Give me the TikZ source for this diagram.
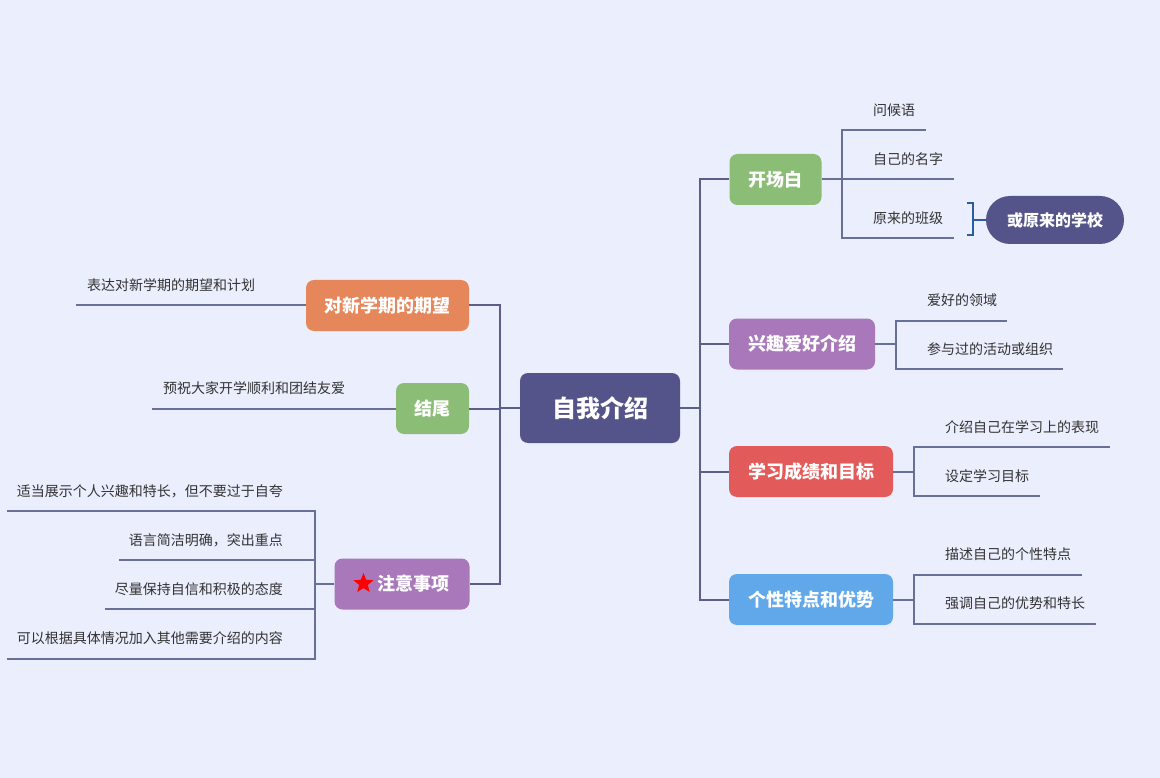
\documentclass[tikz,border=0pt]{standalone}
\usepackage{fontspec}
\setmainfont{Noto Sans CJK SC}
\usetikzlibrary{shapes.geometric}
\definecolor{bgcol}{HTML}{EAEEFD}
\definecolor{cdark}{HTML}{54548A}
\definecolor{trunkcol}{HTML}{5B5E8B}
\definecolor{subcol}{HTML}{687098}
\definecolor{cgreen}{HTML}{8CBD77}
\definecolor{cpurple}{HTML}{A878BA}
\definecolor{cred}{HTML}{E25A59}
\definecolor{cblue}{HTML}{60A8EA}
\definecolor{corange}{HTML}{E5875A}
\definecolor{txtcol}{HTML}{333333}
\definecolor{brcol}{HTML}{2C5BA6}
\tikzset{
  rootbox/.style={fill=cdark, rounded corners=8pt, minimum height=70, minimum width=160, inner sep=0,
    text=white, font=\fontsize{24}{28}\selectfont\bfseries},
  branchbox/.style={rounded corners=8pt, minimum height=51, inner sep=0,
    text=white, font=\fontsize{18}{22}\selectfont\bfseries},
  pillbox/.style={fill=cdark, rounded corners=24pt, minimum height=48, minimum width=138, inner sep=0,
    text=white, font=\fontsize{16}{20}\selectfont\bfseries},
  leaf/.style={inner sep=0, text=txtcol, font=\fontsize{14}{17}\selectfont},
  trunk/.style={draw=trunkcol, line width=2pt},
  subline/.style={draw=subcol, line width=2pt},
}
\begin{document}
\begin{tikzpicture}[x=1pt,y=-1pt]
\fill[bgcol] (0,0) rectangle (1160,778);
\useasboundingbox (0,0) rectangle (1160,778);

% root
\node[rootbox] (root) at (600,408) {自我介绍};

% right branches
\node[branchbox, fill=cgreen, minimum width=92] (kc) at (775.5,179.5) {开场白};
\node[branchbox, fill=cpurple, minimum width=146] (xq) at (802,344) {兴趣爱好介绍};
\node[branchbox, fill=cred, minimum width=164] (xx) at (811,471.5) {学习成绩和目标};
\node[branchbox, fill=cblue, minimum width=164] (gx) at (811,599.5) {个性特点和优势};

% left branches
\node[branchbox, fill=corange, minimum width=163] (dx) at (387.5,305.5) {对新学期的期望};
\node[branchbox, fill=cgreen, minimum width=73] (jw) at (432.5,408.5) {结尾};
\node[branchbox, fill=cpurple, minimum width=135] (zy) at (402,584) {\hspace*{22pt}注意事项};
\node[star, star points=5, star point ratio=2.3, fill=red, inner sep=0, minimum size=21] (star) at (363.5,583.5) {};

% trunks
\coordinate (rt) at (700,408);
\coordinate (lt) at (500,408);
\draw[trunk] (root.east) -- (rt);
\draw[trunk] (rt) |- (kc.west);
\draw[trunk] (rt) |- (xq.west);
\draw[trunk] (rt) |- (xx.west);
\draw[trunk] (rt) |- (gx.west);
\draw[trunk] (root.west) -- (lt);
\draw[trunk] (lt) |- (dx.east);
\draw[trunk] (lt) |- (jw.east);
\draw[trunk] (lt) |- (zy.east);

% 开场白 leaves
\coordinate (kcj) at (842,179.5);
\coordinate (k1e) at (926,130);
\coordinate (k2e) at (954,179.5);
\coordinate (k3e) at (954,238);
\draw[subline] (kc.east) -- (kcj);
\draw[subline] (kcj) |- (k1e);
\draw[subline] (kcj) -- (k2e);
\draw[subline] (kcj) |- (k3e);
\node[leaf, anchor=west] (k1) at (873,110) {问候语};
\node[leaf, anchor=west] (k2) at (873,159) {自己的名字};
\node[leaf, anchor=west] (k3) at (873,218) {原来的班级};

% bracket + pill
\node[pillbox] (school) at (1055,220) {或原来的学校};
\coordinate (bt) at (967,203);
\coordinate (bb) at (967,235);
\coordinate (bm) at (973,220);
\draw[brcol, line width=1.6pt] (bt) -- ++(6,0) |- (bb);
\draw[brcol, line width=1.6pt] (bm) -- (school.west);

% 兴趣爱好介绍 leaves
\coordinate (xqj) at (896,344);
\coordinate (q1e) at (1007,321);
\coordinate (q2e) at (1063,369);
\draw[subline] (xq.east) -- (xqj);
\draw[subline] (xqj) |- (q1e);
\draw[subline] (xqj) |- (q2e);
\node[leaf, anchor=west] (q1) at (927,300) {爱好的领域};
\node[leaf, anchor=west] (q2) at (927,349) {参与过的活动或组织};

% 学习成绩和目标 leaves
\coordinate (xxj) at (914,471.5);
\coordinate (x1e) at (1110,447);
\coordinate (x2e) at (1040,496);
\draw[subline] (xx.east) -- (xxj);
\draw[subline] (xxj) |- (x1e);
\draw[subline] (xxj) |- (x2e);
\node[leaf, anchor=west] (x1) at (945,427) {介绍自己在学习上的表现};
\node[leaf, anchor=west] (x2) at (945,476) {设定学习目标};

% 个性特点和优势 leaves
\coordinate (gxj) at (914,599.5);
\coordinate (g1e) at (1082,575);
\coordinate (g2e) at (1096,624);
\draw[subline] (gx.east) -- (gxj);
\draw[subline] (gxj) |- (g1e);
\draw[subline] (gxj) |- (g2e);
\node[leaf, anchor=west] (g1) at (945,554) {描述自己的个性特点};
\node[leaf, anchor=west] (g2) at (945,603) {强调自己的优势和特长};

% 对新学期的期望 leaf
\coordinate (d1e) at (76,305.5);
\draw[subline] (dx.west) -- (d1e);
\node[leaf, anchor=west] (d1) at (87,285) {表达对新学期的期望和计划};

% 结尾 leaf
\coordinate (j1e) at (152,408.5);
\draw[subline] (jw.west) -- (j1e);
\node[leaf, anchor=west] (j1) at (163,388) {预祝大家开学顺利和团结友爱};

% 注意事项 leaves
\coordinate (zyj) at (315,584);
\coordinate (z1e) at (7,511);
\coordinate (z2e) at (119,560);
\coordinate (z3e) at (105,609);
\coordinate (z4e) at (7,659);
\draw[subline] (zy.west) -- (zyj);
\draw[subline] (zyj) |- (z1e);
\draw[subline] (zyj) |- (z2e);
\draw[subline] (zyj) |- (z3e);
\draw[subline] (zyj) |- (z4e);
\node[leaf, anchor=east] (z1) at (283,491) {适当展示个人兴趣和特长，但不要过于自夸};
\node[leaf, anchor=east] (z2) at (283,540) {语言简洁明确，突出重点};
\node[leaf, anchor=east] (z3) at (283,589) {尽量保持自信和积极的态度};
\node[leaf, anchor=east] (z4) at (283,638) {可以根据具体情况加入其他需要介绍的内容};
\end{tikzpicture}
\end{document}
